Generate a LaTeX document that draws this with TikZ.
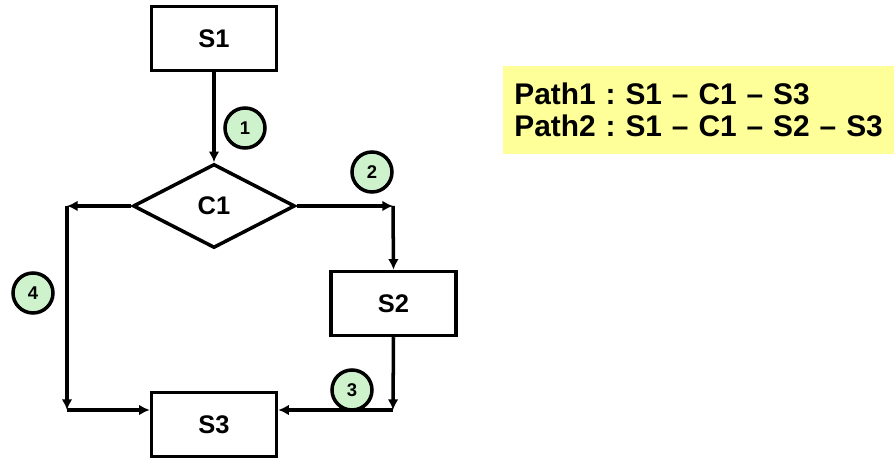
\documentclass[tikz,border=0pt]{standalone}
\usepackage{fontspec}
\setmainfont{Liberation Sans}
\usepackage{tikz}
\usetikzlibrary{positioning,shapes,arrows.meta,calc}
\definecolor{notefill}{RGB}{255,255,153}
\definecolor{numfill}{RGB}{206,242,204}
\tikzstyle{process}=[rectangle, draw=black, line width=2pt, minimum width=2.5cm, minimum height=1.28cm, font=\fontsize{14.5}{16}\selectfont\bfseries]
\tikzstyle{decision}=[diamond, draw=black, line width=2pt, minimum width=3.24cm, minimum height=1.68cm, inner sep=0pt, font=\fontsize{14.5}{16}\selectfont\bfseries]
\tikzstyle{edgenum}=[circle, draw=black, fill=numfill, line width=2pt, minimum size=0.8cm, inner sep=0pt, font=\fontsize{10.5}{11}\selectfont\bfseries]
\tikzstyle{arrow}=[-{Latex[length=6pt,width=6pt]}, line width=2pt]
\frenchspacing

\begin{document}
\begin{tikzpicture}[x=0.02cm, y=-0.02cm]
        \useasboundingbox (0,0) rectangle (894,462);

        \node[process] (s1) at (214,38.5) {S1};
        \node[decision, below=1.8cm of s1] (c1) {C1};
        \node[process] (s3) at (214,424.5) {S3};
        \node[process] (s2) at (393.5,303.5) {S2};

        % corners of the two branches
        \coordinate (lb) at (67,410);
        \coordinate (rb) at (393,410);
        \coordinate (lt) at (lb |- c1.west);
        \coordinate (rt) at (rb |- c1.east);

        \draw[arrow] (s1) -- (c1);
        \draw[arrow] (c1.east) -- (rt);
        \draw[arrow] (rt) -- (s2.north);
        \draw[arrow] (s2.south) -- (rb);
        \draw[arrow] (rb) -- (rb -| s3.east);
        \draw[arrow] (c1.west) -- (lt);
        \draw[arrow] (lt) -- (lb);
        \draw[arrow] (lb) -- (lb -| s3.west);

        % edge numbers
        \node[edgenum] (e1) at (245,128) {1};
        \node[edgenum] (e2) at (372,172) {2};
        \node[edgenum] (e3) at (352,390) {3};
        \node[edgenum] (e4) at (33,293) {4};

        \node[fill=notefill, anchor=west, minimum width=7.82cm, minimum height=1.76cm, inner xsep=0.22cm, align=left, text width=7.38cm, font=\fontsize{17}{18.5}\selectfont\bfseries] (paths) at (503,110)
            {Path1 : S1 -- C1 -- S3\\Path2 : S1 -- C1 -- S2 -- S3};
    \end{tikzpicture}
\end{document}
